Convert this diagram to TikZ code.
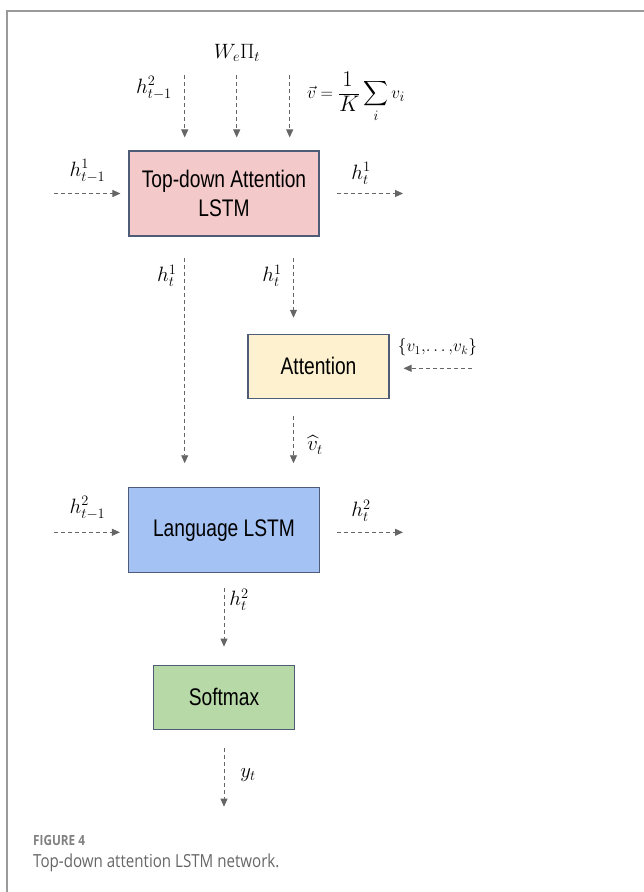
\documentclass[tikz,border=0pt]{standalone}
\usepackage{exscale}
\usepackage{fontspec}
\setsansfont{Liberation Sans}[FakeStretch=0.8]
\newfontfamily\capfont{Open Sans}[FakeStretch=0.84]
\usetikzlibrary{arrows.meta,positioning}

\definecolor{tdpink}{HTML}{F4C9CA}
\definecolor{attyellow}{HTML}{FDF1CF}
\definecolor{langblue}{HTML}{A4C2F4}
\definecolor{smgreen}{HTML}{B7D8A7}
\definecolor{boxedge}{HTML}{4E5C78}
\definecolor{flowgray}{HTML}{666666}
\definecolor{framegray}{HTML}{9A9A9A}

\begin{document}
\begin{tikzpicture}[x=1pt, y=-1pt,
    block/.style={rectangle, draw=boxedge, line width=1.1pt, align=center, inner sep=0pt,
        font=\sffamily\fontsize{24}{29}\selectfont},
    flow/.style={draw=flowgray, line width=0.9pt, dash pattern=on 4pt off 3pt,
        -{Triangle[width=7pt,length=8pt]}},
    lbl/.style={font=\fontsize{21}{25}\selectfont, inner sep=0pt}
]
\useasboundingbox (0,0) rectangle (644,892);

% frame
\draw[framegray, line width=1.5pt] (7,892) -- (7,11) -- (644,11);

% blocks
\node[block, fill=tdpink, minimum width=190pt, minimum height=85pt] (topdown) at (224,193.5) {Top-down Attention\\LSTM};
\node[block, fill=attyellow, minimum width=141pt, minimum height=64pt] (attn) at (318.5,366.3) {Attention};
\node[block, fill=langblue, minimum width=191pt, minimum height=85pt, below=250.7pt of topdown] (lang) {Language LSTM};
\node[block, fill=smgreen, minimum width=141pt, minimum height=64pt, below=91.3pt of lang] (softmax) {Softmax};

% free ends
\coordinate (hprevtwo) at (184.7,75);
\coordinate (wemb) at (236.7,75);
\coordinate (vmean) at (289.7,75);
\coordinate (hprevone) at (54,193.5);
\coordinate (houtone) at (403,193.5);
\coordinate (vset) at (471.7,368.3);
\coordinate (hinlang) at (54,532.3);
\coordinate (houtlang) at (403,532.3);
\coordinate (yout) at (223.3,806.7);

% inputs to top-down LSTM
\draw[flow, shorten >=13pt] (hprevtwo) -- (hprevtwo |- topdown.north);
\draw[flow, shorten >=13pt] (wemb) -- (wemb |- topdown.north);
\draw[flow, shorten >=13pt] (vmean) -- (vmean |- topdown.north);
\draw[flow, shorten >=8pt] (hprevone) -- (topdown.west);
\draw[flow, shorten <=17pt] (topdown.east) -- (houtone);

% top-down LSTM to attention and language LSTM
\draw[flow, shorten <=21pt, shorten >=24pt] (topdown.south -| hprevtwo) -- (lang.north -| hprevtwo);
\draw[flow, shorten <=21pt, shorten >=16pt] ([xshift=-25pt]attn.north |- topdown.south) -- ([xshift=-25pt]attn.north);
\draw[flow, shorten >=14pt] (vset) -- (vset -| attn.east);
\draw[flow, shorten <=17pt, shorten >=24pt] ([xshift=-25pt]attn.south) -- ([xshift=-25pt]attn.south |- lang.north);

% language LSTM
\draw[flow, shorten >=8pt] (hinlang) -- (hinlang -| lang.west);
\draw[flow, shorten <=17pt] (houtlang -| lang.east) -- (houtlang);
\draw[flow, shorten <=15pt, shorten >=18pt] (lang) -- (softmax);
\draw[flow, shorten <=18pt] (softmax.south) -- (softmax.south |- yout);

% labels
\node[lbl] (lhprevtwo) at (154,88) {$h_{t-1}^{2}$};
\node[lbl] (lwemb) at (237,53) {$W_e\Pi_t$};
\node[lbl, font=\fontsize{19}{23}\selectfont] (lvmean) at (356,97) {$\displaystyle\vec{v}=\frac{\scalebox{1.3}{$1$}}{\scalebox{1.3}{$K$}}\sum_{i} v_i$};
\node[lbl] (lhprevone) at (87.5,171) {$h_{t-1}^{1}$};
\node[lbl] (lhoutone) at (361,173.5) {$h_{t}^{1}$};
\node[lbl] (lhleft) at (166.7,276) {$h_{t}^{1}$};
\node[lbl] (lhright) at (272,276) {$h_{t}^{1}$};
\node[lbl, font=\fontsize{18}{22}\selectfont] (lvset) at (437.5,347.5) {$\{v_1,\!\ldots,\!v_k\}$};
\node[lbl] (lvhat) at (315,445) {$\widehat{v}_t$};
\node[lbl] (lhinlang) at (87.5,508) {$h_{t-1}^{2}$};
\node[lbl] (lhoutlang) at (361,511) {$h_{t}^{2}$};
\node[lbl] (lhdown) at (239,600) {$h_{t}^{2}$};
\node[lbl] (lyout) at (248,775) {$y_t$};

% caption
\node[anchor=west, inner sep=0pt, text=gray, font=\capfont\bfseries\fontsize{14}{17}\selectfont] (figno) at (33,840) {FIGURE 4};
\node[anchor=west, inner sep=0pt, text=black!60, font=\capfont\fontsize{18}{21}\selectfont] (caption) at (33,863) {Top-down attention LSTM network.};

\end{tikzpicture}
\end{document}
